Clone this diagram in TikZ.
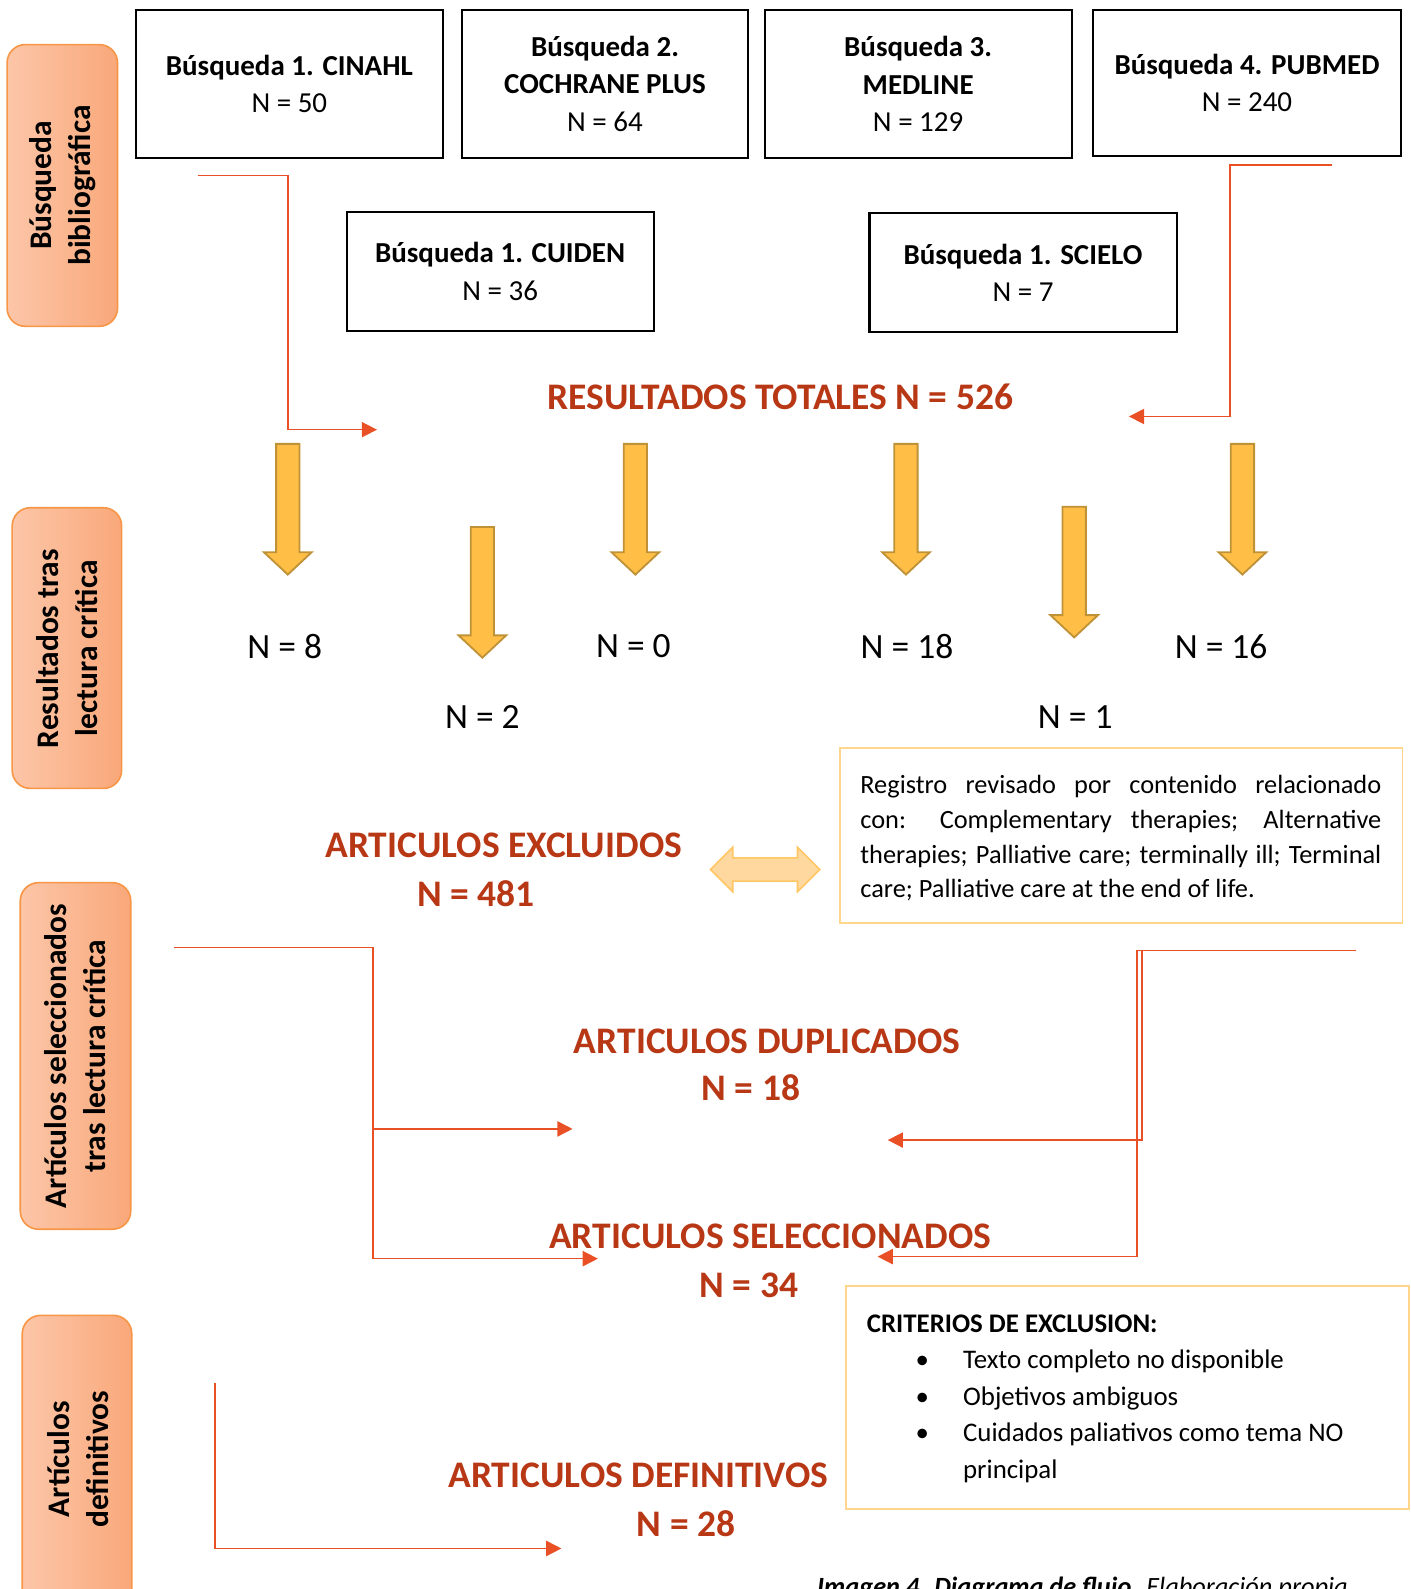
\documentclass[tikz,border=0pt]{standalone}
\usepackage{fontspec}
\setmainfont{Carlito}
\usetikzlibrary{positioning,arrows.meta}

\definecolor{linered}{RGB}{234,80,38}
\definecolor{headred}{RGB}{184,56,22}
\definecolor{sideleft}{RGB}{252,198,168}
\definecolor{sideright}{RGB}{249,168,122}
\definecolor{sideline}{RGB}{247,150,70}
\definecolor{arrowfill}{RGB}{255,190,70}
\definecolor{arrowline}{RGB}{192,146,56}
\definecolor{dblfill}{RGB}{255,216,160}
\definecolor{dblline}{RGB}{255,198,100}
\definecolor{noteline}{RGB}{255,214,140}

\begin{document}
\begin{tikzpicture}[x=0.5pt,y=-0.5pt,
    srcbox/.style={draw, line width=1pt, minimum width=151.5pt, minimum height=73pt,
      inner sep=0pt, align=center, font=\fontsize{14.3}{18.5}\selectfont},
    sidebox/.style={draw=sideline, line width=0.8pt, rounded corners=9pt,
      left color=sideleft, right color=sideright},
    sidetext/.style={rotate=90, align=center, font=\fontsize{15.5}{19}\selectfont\bfseries},
    heading/.style={text=headred, inner sep=0pt, font=\fontsize{18.5}{22}\selectfont\bfseries},
    count/.style={inner sep=0pt, font=\fontsize{17.5}{20}\selectfont},
    flow/.style={draw=linered, line width=0.8pt, -{Triangle[length=7.5pt,width=7.5pt]}},
    yarrow/.style={fill=arrowfill, draw=arrowline, line width=0.9pt},
    dblarrow/.style={fill=dblfill, draw=dblline, line width=0.8pt},
    notebox/.style={draw=noteline, line width=0.9pt},
    downarrow/.pic={
      \draw[yarrow] (-11.5,0) -- (11.5,0) -- (11.5,107) -- (23.5,107) -- (0,129)
        -- (-23.5,107) -- (-11.5,107) -- cycle;
    }
  ]
  \useasboundingbox (0,0) rectangle (1392,1568);

  % side labels
  \path[sidebox] (7,44) rectangle (116,322);
  \path[sidebox] (12,501) rectangle (120,778);
  \path[sidebox] (20,871) rectangle (129,1213);
  \path[sidebox] (22,1298) rectangle (130,1620);
  \node[sidetext] (side1) at (62,183) {Búsqueda\\bibliográfica};
  \node[sidetext] (side2) at (66,640) {Resultados tras\\lectura crítica};
  \node[sidetext] (side3) at (74,1042) {Artículos seleccionados\\tras lectura crítica};
  \node[sidetext] (side4) at (77,1440) {Artículos\\definitivos};

  % searches
  \node[srcbox] (cinahl) at (285.5,83) {\textbf{Búsqueda 1. CINAHL}\\N = 50};
  \node[srcbox, minimum width=141pt] (cochrane) at (597,82.5)
    {\textbf{Búsqueda 2.}\\\textbf{COCHRANE PLUS}\\N = 64};
  \node[srcbox] (medline) at (906,83) {\textbf{Búsqueda 3.}\\\textbf{MEDLINE}\\N = 129};
  \node[srcbox, minimum height=72pt] (pubmed) at (1230.5,82) {\textbf{Búsqueda 4. PUBMED}\\N = 240};
  \node[srcbox, minimum height=59pt] (cuiden) at (493.5,268) {\textbf{Búsqueda 1. CUIDEN}\\N = 36};
  \node[srcbox, minimum height=59pt] (scielo) at (1009.5,269) {\textbf{Búsqueda 1. SCIELO}\\N = 7};

  \node[heading] (total) at (770,392) {RESULTADOS TOTALES N = 526};
  \coordinate (inL) at (195,173);
  \coordinate (totL) at (372,424);
  \coordinate (inR) at (1314,163);
  \coordinate (totR) at (1114,411);
  \draw[flow] (inL) -- ++(89,0) |- (totL);
  \draw[flow] (inR) -- ++(-100,0) |- (totR);

  % after critical reading
  \foreach \x/\y in {284/438, 476/520, 627/438, 894/438, 1060/500, 1226/438}
    \pic at (\x,\y) {downarrow};
  \node[count] (n8) at (281,638) {N = 8};
  \node[count] (n2) at (476,708) {N = 2};
  \node[count] (n0) at (625,638) {N = 0};
  \node[count] (n18) at (895,638) {N = 18};
  \node[count] (n1) at (1061,708) {N = 1};
  \node[count] (n16) at (1205,638) {N = 16};

  % excluded
  \node[heading] (excl) at (497,834) {ARTICULOS EXCLUIDOS};
  \node[heading] (exclN) at (470,882) {N = 481};
  \draw[dblarrow] (701,858) -- (723,836) -- (723,846.5) -- (787,846.5) -- (787,836)
    -- (809,858) -- (787,880) -- (787,869.5) -- (723,869.5) -- (723,880) -- cycle;
  \draw[notebox] (829,738) rectangle (1384,911);
  \node[inner sep=0pt, text width=257pt, align=justify,
    font=\fontsize{13}{17.25}\selectfont] (registro) at (1106,827)
    {Registro revisado por contenido relacionado\linebreak
     con: Complementary therapies; Alternative\linebreak
     therapies; Palliative care; terminally ill; Terminal\linebreak
     care; Palliative care at the end of life.};

  % duplicates and selected
  \node[heading] (dup) at (757,1028) {ARTICULOS DUPLICADOS};
  \node[heading] (dupN) at (741,1073) {N = 18};
  \node[heading] (sel) at (760,1220) {ARTICULOS SELECCIONADOS};
  \node[heading] (selN) at (739,1268) {N = 34};
  \coordinate (l0) at (172,935);
  \coordinate (ldup) at (565,1114);
  \coordinate (lsel) at (590,1242);
  \coordinate (r0) at (1338,938);
  \coordinate (rdup) at (876,1125);
  \coordinate (rsel) at (866,1240);
  \draw[flow] (l0) -- ++(196,0) |- (lsel);
  \draw[flow] (l0) ++(196,0) |- (ldup);
  \draw[flow] (r0) -- ++(-216,0) |- (rsel);
  \draw[flow] (r0) ++(-211,0) |- (rdup);

  % exclusion criteria
  \draw[notebox] (835,1269) rectangle (1390,1489);
  \node[inner sep=0pt, anchor=north west, align=left,
    font=\fontsize{13.25}{18}\selectfont] (criterios) at (855,1297)
    {\textbf{CRITERIOS DE EXCLUSION:}\\
     \hspace*{24pt}\makebox[23.5pt][l]{\textbullet}Texto completo no disponible\\
     \hspace*{24pt}\makebox[23.5pt][l]{\textbullet}Objetivos ambiguos\\
     \hspace*{24pt}\makebox[23.5pt][l]{\textbullet}Cuidados paliativos como tema NO\\
     \hspace*{47.5pt}principal};

  % final
  \node[heading] (def) at (630,1456) {ARTICULOS DEFINITIVOS};
  \node[heading] (defN) at (677,1504) {N = 28};
  \coordinate (d0) at (212,1365);
  \coordinate (ddef) at (554,1528);
  \draw[flow] (d0) |- (ddef);

  \node[inner sep=0pt, anchor=base west, font=\fontsize{13}{15}\selectfont\itshape]
    (caption) at (806,1574) {\textbf{Imagen 4. Diagrama de flujo.} Elaboración propia};
\end{tikzpicture}
\end{document}
